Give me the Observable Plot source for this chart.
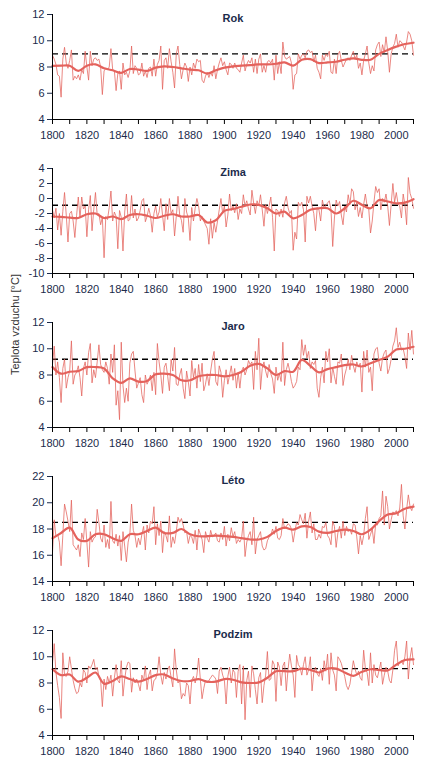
<!DOCTYPE html>
<html>
<head>
<meta charset="utf-8">
<script src="https://cdn.jsdelivr.net/npm/d3@7"></script>
<script src="https://cdn.jsdelivr.net/npm/@observablehq/plot@0.6"></script>
<style>
  html, body { margin: 0; padding: 0; background: #fff; }
  #chart { width: 423px; }
  #chart svg { display: block; }
</style>
</head>
<body>
<div id="chart"></div>
<script>
// ---- Data (°C), years 1800–2010 ----
const titles = ["Rok", "Zima", "Jaro", "Léto", "Podzim"];
const thresholds = [9.0, -0.9, 9.2, 18.5, 9.1];
const yMin = [4, -10, 4, 14, 4];
const yMax = [12, 4, 12, 22, 12];
const yLabel = "Teplota vzduchu [°C]";

const rok = [8.9,8.6,8.2,7.4,7.3,5.7,8.6,9.5,8.3,7.9,
8.5,9.3,7.0,7.3,7.1,7.4,7.0,7.8,7.5,9.2,
8.0,7.0,9.2,8.1,8.6,8.7,8.5,8.6,8.0,5.9,
7.7,7.9,7.8,8.0,9.4,7.8,7.7,6.2,7.5,7.7,
6.3,8.3,7.4,7.6,7.2,7.7,9.6,7.5,8.1,7.9,
7.4,7.5,8.3,7.3,7.7,7.2,7.9,8.0,7.3,8.6,
7.3,8.2,8.5,9.6,6.3,8.5,8.7,7.9,9.4,8.4,
7.6,6.4,9.0,9.6,8.2,7.1,7.8,8.3,8.0,6.9,
8.0,7.4,8.3,7.9,8.6,8.4,8.5,7.0,6.8,7.3,
7.6,7.2,7.6,7.3,8.1,7.1,7.8,8.3,8.7,8.1,
8.4,7.8,7.4,8.3,8.2,7.9,8.3,7.9,7.8,7.6,
8.3,8.9,7.7,8.2,8.5,8.3,8.7,7.6,8.6,7.5,
8.6,9.0,7.6,8.1,7.6,8.4,8.5,8.3,8.6,7.0,
8.9,7.5,8.4,7.5,9.9,8.8,8.6,8.7,8.8,8.3,
6.3,7.4,7.5,9.0,8.6,8.9,9.0,8.7,9.2,9.3,
9.1,9.2,8.4,8.9,7.9,7.6,7.1,8.9,8.5,9.0,
8.8,9.2,7.6,7.5,8.6,7.5,8.9,9.2,8.5,8.0,
8.3,8.6,8.7,8.5,8.9,9.2,8.6,8.9,7.9,8.3,
7.4,8.5,9.0,9.6,8.3,7.5,8.1,7.7,9.3,9.7,
9.9,8.8,9.7,9.1,10.3,9.2,7.6,9.0,9.5,9.8,
10.5,9.5,10.0,9.9,9.6,9.3,9.9,10.7,10.5,10.0,8.9];

const zima = [-1.5,-2.6,-1.3,-4.2,-2.0,-4.9,-1.7,0.8,-2.2,-5.8,
-2.0,-1.7,-3.0,-5.2,-2.3,0.2,-2.6,0.2,-1.4,-1.0,
-5.1,-1.5,0.4,-4.3,-1.5,0.8,-2.2,-2.0,-3.5,-2.5,
-7.9,-2.4,-2.8,-1.2,1.0,-3.0,-1.8,-2.4,-6.7,-1.6,
-2.5,-7.0,-1.8,0.6,-3.0,-2.8,0.4,-2.6,-1.4,-3.0,
-2.6,-1.6,-0.3,0.0,-3.1,-2.4,-1.3,-2.3,-4.5,-2.0,
-1.0,-2.5,-1.8,0.0,-2.2,-4.3,-0.7,-2.8,0.0,-2.0,
-1.5,-5.0,-2.4,0.3,-2.2,-2.9,-4.5,0.0,-1.8,-2.6,
-5.6,-1.2,-3.0,-1.3,0.0,-1.0,-3.0,-2.4,-3.0,-3.5,
-4.0,-6.1,-2.7,-5.3,-3.2,-4.5,-3.0,-1.5,0.0,-2.0,
-1.0,-3.8,-2.2,0.6,-1.6,-1.0,-1.9,-0.7,-2.8,-1.4,
-2.0,0.5,-1.0,-0.3,-1.4,-2.2,1.1,-0.6,-2.0,-0.3,
-1.0,0.5,-1.5,-3.7,-0.8,-2.0,-1.0,0.2,-2.5,-7.0,
-1.4,-1.6,-2.4,-1.4,-2.5,-0.6,0.3,-1.2,-2.0,-1.6,
-6.9,-4.5,-5.4,-0.5,-1.0,-0.5,-1.5,-5.8,0.3,-0.6,
0.3,-1.0,-2.0,-4.3,-1.2,-1.5,-3.0,-0.2,-1.3,-0.9,
-0.6,-0.3,-1.5,-6.4,-2.6,-0.2,-1.0,-0.4,-2.2,-3.5,
-1.0,-1.8,0.5,-0.8,1.3,0.9,-1.5,-0.6,-2.4,-1.2,
-2.6,-0.8,0.6,-1.0,-1.5,-4.6,-3.0,-0.5,1.6,0.8,
1.3,-1.5,0.0,-0.5,0.6,-1.0,-3.6,-0.8,2.0,-0.5,
0.8,-0.7,-1.0,-2.6,0.6,-0.8,-3.5,2.8,0.7,0.0,-1.3];

const jaro = [8.8,10.2,8.0,9.0,7.8,5.9,8.5,9.2,7.0,7.8,
8.3,10.6,7.3,8.0,8.2,8.7,7.8,6.4,8.5,9.0,
8.0,9.7,10.4,7.4,8.4,7.8,9.0,10.3,8.8,8.4,
8.2,9.0,8.5,7.3,9.6,8.2,10.3,5.7,6.8,4.6,
10.5,7.2,5.9,7.0,6.0,8.9,9.6,9.8,8.3,7.0,
7.4,7.8,6.5,5.9,8.0,7.3,7.6,8.0,6.8,8.2,
6.5,10.4,9.0,8.0,6.6,8.6,8.9,7.9,6.8,9.2,
8.3,10.1,7.3,7.2,8.0,8.5,7.0,6.2,8.3,7.5,
6.4,9.1,7.8,8.5,7.0,8.8,7.5,8.9,6.8,7.3,
8.1,7.2,8.3,9.2,9.8,7.5,7.2,8.7,8.2,6.3,
7.6,8.4,7.3,8.0,8.7,7.6,8.5,7.0,8.2,7.0,
8.3,8.6,8.0,8.4,9.1,8.8,9.0,6.9,9.8,8.4,
10.8,6.9,8.5,9.0,8.3,7.8,8.8,8.1,7.7,6.6,
8.6,7.6,8.1,7.5,10.5,7.2,8.4,8.9,8.3,7.5,
7.0,7.2,7.5,8.6,8.4,10.7,9.5,10.3,9.3,9.8,
8.5,9.0,8.8,9.1,7.0,6.3,7.8,8.6,7.4,9.8,
9.0,10.0,7.4,8.6,7.9,7.3,9.0,8.9,9.6,7.2,
8.0,8.5,9.2,8.4,9.5,8.7,8.2,9.0,8.6,8.9,
6.7,9.8,8.6,9.9,8.2,8.6,6.8,9.6,10.0,10.1,
8.9,8.3,9.3,9.7,9.9,8.1,8.5,9.2,10.2,10.6,
11.6,10.1,10.5,9.9,10.0,9.4,8.5,11.2,9.9,11.4,9.6];

const leto = [16.2,18.7,17.4,17.6,17.0,15.2,17.5,19.9,19.3,18.6,
17.8,20.2,16.8,16.6,16.4,16.8,15.9,17.7,17.2,18.8,
17.0,15.1,17.8,17.0,17.3,17.4,19.5,18.5,17.3,17.0,
18.3,16.6,17.2,16.5,20.1,17.1,16.9,17.6,16.7,17.5,
15.6,17.8,16.7,15.5,17.0,17.6,19.9,17.9,17.5,16.6,
17.3,16.8,17.6,18.2,16.4,18.3,17.7,18.6,18.4,19.7,
16.8,18.4,17.5,18.6,16.2,17.8,17.5,17.0,19.0,16.6,
17.4,16.9,17.8,18.9,18.5,18.8,18.3,17.7,17.8,16.9,
17.5,17.4,16.9,17.9,16.4,18.0,17.6,17.2,16.2,17.8,
17.3,17.0,17.9,17.4,17.5,17.7,17.1,17.0,17.7,17.2,
18.2,16.7,17.6,17.1,18.1,17.4,17.8,16.9,17.2,17.0,
17.3,18.6,15.9,17.0,17.5,17.8,16.8,18.9,16.1,17.2,
17.5,17.8,16.7,16.4,16.5,17.1,17.4,17.5,18.0,17.6,
18.2,17.3,17.2,17.5,18.8,18.0,18.2,18.4,18.3,18.0,
17.0,17.8,18.5,18.3,19.1,18.7,18.4,19.2,17.3,18.6,
19.3,17.7,18.4,17.2,17.2,17.6,17.3,18.2,18.1,18.5,
17.5,17.3,16.8,18.6,18.2,16.6,17.7,18.2,17.3,18.6,
17.5,18.2,17.8,18.0,17.6,18.4,18.3,17.4,16.1,17.5,
16.8,17.5,18.8,19.7,17.2,17.6,18.0,16.9,18.4,18.3,
18.8,19.0,20.9,18.3,20.5,19.7,18.0,18.7,19.3,19.2,
19.4,19.0,19.6,21.4,19.0,18.0,19.5,20.6,19.7,19.4,19.9];

const podzim = [9.5,11.0,8.8,7.8,6.9,5.3,10.3,8.6,8.5,8.9,
10.0,9.1,8.2,7.6,7.2,7.3,8.0,7.7,9.0,8.8,
8.0,9.3,9.1,9.4,9.8,9.0,9.2,8.5,8.2,6.2,
8.3,7.5,8.5,8.0,8.6,7.0,8.4,9.4,8.2,8.0,
9.7,7.0,8.3,9.2,9.6,9.5,7.3,8.4,8.0,8.3,
7.9,7.4,8.6,8.2,9.3,7.5,8.6,9.0,7.4,8.2,
8.3,8.8,10.0,8.6,7.9,8.8,8.3,9.0,9.3,8.4,
7.7,10.6,9.0,8.0,8.2,6.8,7.2,7.0,8.0,7.8,
6.4,8.2,8.5,8.0,8.6,9.9,8.3,6.8,7.6,8.2,
8.0,8.2,8.4,8.6,8.5,8.3,7.2,8.9,9.2,8.6,
8.2,6.4,8.5,9.2,8.0,9.0,8.8,6.9,8.9,9.4,
6.4,9.3,5.2,8.2,8.9,6.9,9.3,8.7,7.5,6.4,
8.4,8.8,6.5,7.8,8.6,10.4,8.2,8.3,9.7,9.4,
6.6,9.6,9.2,7.8,9.3,9.6,7.4,9.0,10.2,9.3,
8.6,6.9,10.1,9.4,9.2,8.6,9.4,10.0,8.6,9.0,
10.0,7.4,8.8,9.2,8.7,8.5,9.1,8.2,9.7,8.9,
10.2,7.9,10.3,9.0,8.6,7.4,10.0,9.8,9.5,9.0,
8.5,7.8,7.5,7.9,8.8,9.7,9.1,8.6,8.9,8.4,
8.2,10.5,9.1,8.8,7.8,10.3,8.0,9.4,8.6,8.4,
9.0,9.6,7.9,8.6,9.2,8.9,8.2,8.0,9.0,10.5,
11.2,9.3,9.6,9.7,9.4,10.0,11.2,8.3,9.9,10.7,9.4];

// smoothed curves, every 5 years 1800–2010
const rokSmooth = [8.08,8.1,8.1,7.7,8.1,8.2,7.9,7.75,7.55,7.85,7.8,7.7,7.95,8.05,8.0,7.9,7.8,7.75,7.5,7.75,7.95,8.05,8.1,8.15,8.2,8.2,8.25,8.35,8.1,8.55,8.6,8.3,8.35,8.4,8.55,8.65,8.55,8.55,9.0,9.3,9.55,9.75,9.85];
const zimaSmooth = [-2.4,-2.45,-2.55,-2.6,-2.1,-2.0,-2.6,-2.4,-2.75,-2.2,-2.1,-2.3,-2.6,-2.3,-2.1,-2.4,-2.4,-2.2,-3.2,-2.9,-1.65,-1.4,-1.1,-0.8,-0.85,-1.3,-2.0,-1.75,-2.65,-2.2,-1.5,-1.3,-1.3,-2.0,-1.3,-0.3,-0.85,-1.3,-0.2,-0.4,-0.65,-0.55,-0.1];
const jaroSmooth = [8.6,8.1,8.25,8.3,8.6,8.6,8.5,7.75,7.4,7.75,7.5,7.55,8.05,8.1,8.0,7.6,7.6,7.9,8.0,8.0,7.9,8.0,8.25,8.7,8.85,8.5,8.0,8.3,8.25,9.15,8.7,8.2,8.45,8.6,8.75,8.8,8.65,8.9,9.15,9.4,9.95,10.0,10.15];
const letoSmooth = [17.3,17.7,18.1,17.2,17.1,17.6,17.6,17.3,17.1,17.6,17.6,17.85,18.1,17.7,17.7,18.0,17.6,17.45,17.45,17.5,17.45,17.4,17.3,17.2,17.2,17.4,17.85,18.1,17.95,18.2,18.15,17.8,17.7,17.85,17.95,17.85,17.6,17.95,18.6,19.1,19.2,19.55,19.7];
const podzimSmooth = [9.05,8.6,8.65,8.1,8.4,8.8,7.95,8.15,8.5,8.3,8.1,8.3,8.6,8.65,8.35,8.15,8.15,8.3,8.1,8.1,8.3,8.25,8.05,8.0,8.05,8.4,8.9,8.9,8.9,9.1,9.0,8.8,9.1,9.1,8.8,8.55,8.85,9.05,9.0,8.95,9.4,9.75,9.8];

const annual = [rok, zima, jaro, leto, podzim];
const smooth = [rokSmooth, zimaSmooth, jaroSmooth, letoSmooth, podzimSmooth];
const years = d3.range(1800, 2011);
const smoothYears = d3.range(1800, 2011, 5);

// ---- Drawing ----
const lineColor = "#e4625c";
const textColor = "#1b2b4b";
const container = document.getElementById("chart");

titles.forEach((title, i) => {
  const data = years.map((yr, k) => ({year: yr, t: annual[i][k]}));
  const sm = smoothYears.map((yr, k) => ({year: yr, t: smooth[i][k]}));
  const lo = yMin[i], hi = yMax[i];
  const marks = [
    Plot.ruleY([thresholds[i]], {stroke: "#000", strokeWidth: 1.3, strokeDasharray: "6,4"}),
    Plot.line(data, {x: "year", y: "t", stroke: lineColor, strokeWidth: 0.9, strokeOpacity: 0.85}),
    Plot.line(sm, {x: "year", y: "t", curve: "catmull-rom", stroke: lineColor, strokeWidth: 2.2}),
    Plot.ruleY([lo], {stroke: "#000", strokeWidth: 1}),
    Plot.ruleX([1800], {stroke: "#000", strokeWidth: 1}),
    Plot.axisY({ticks: d3.range(lo, hi + 1, 2), tickSize: 5, tickPadding: 3, tickFormat: d => String(d), label: null, fontSize: 11, color: textColor}),
    Plot.axisX({ticks: d3.range(1800, 2011, 10), tickSize: 5, tickFormat: () => "", label: null, color: "#000"}),
    Plot.axisX({ticks: d3.range(1800, 2001, 20), tickSize: 0, tickPadding: 12, tickFormat: d => String(d), label: null, fontSize: 11, color: textColor}),
    Plot.text([title], {frameAnchor: "top", fontWeight: "bold", fontSize: 11, fill: textColor})
  ];
  if (i === 2) {
    marks.push(Plot.text([yLabel], {frameAnchor: "left", dx: -37, rotate: -90, fontSize: 11, fill: "#333"}));
  }
  const svg = Plot.plot({
    width: 423,
    height: 154,
    marginLeft: 52,
    marginRight: 10,
    marginTop: 14,
    marginBottom: 35,
    style: {fontFamily: "'Liberation Sans', Arial, sans-serif", fontSize: "11px", background: "#fff", overflow: "visible"},
    x: {domain: [1800, 2010]},
    y: {domain: [lo, hi]},
    marks
  });
  container.appendChild(svg);
});
</script>
</body>
</html>
